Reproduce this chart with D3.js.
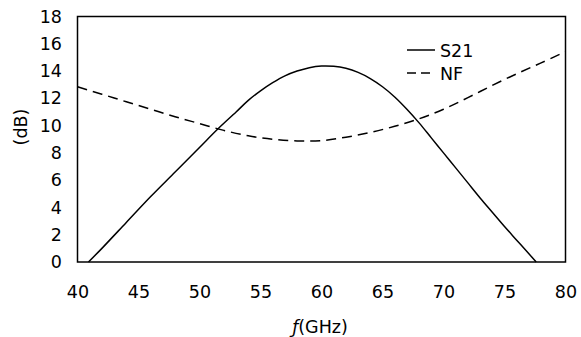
<!DOCTYPE html>
<html>
<head>
<meta charset="utf-8">
<script src="https://cdn.jsdelivr.net/npm/d3@7"></script>
<style>
  body { margin: 0; background: #fff; }
  text { font-family: "DejaVu Sans", Verdana, sans-serif; fill: #000; }
</style>
</head>
<body>
<div id="chart"></div>
<script>
// S21 gain (dB) vs frequency (GHz)
var s21Freq = [40.9, 42, 44, 46, 48, 50, 51.5, 53, 54, 55, 56, 57, 58, 59, 60, 61, 62, 63, 64, 65, 66, 67, 68, 69, 70, 71, 72, 73, 74, 75, 76, 77, 77.6];
var s21Gain = [0, 1.0, 2.9, 4.8, 6.6, 8.4, 9.75, 11.0, 11.85, 12.55, 13.15, 13.65, 14.0, 14.25, 14.37, 14.35, 14.2, 13.9, 13.45, 12.85, 12.1, 11.2, 10.2, 9.1, 8.0, 6.9, 5.8, 4.7, 3.65, 2.6, 1.6, 0.6, 0];
// noise figure (dB)
var nfFreq = [40, 42, 44, 46, 48, 50, 52, 54, 56, 58, 60, 62, 64, 66, 68, 70, 72, 74, 76, 78, 80];
var nfVal = [12.85, 12.3, 11.75, 11.2, 10.65, 10.15, 9.65, 9.25, 9.0, 8.88, 8.9, 9.15, 9.5, 9.95, 10.5, 11.2, 12.05, 12.95, 13.8, 14.6, 15.42];

var xTicks = [40, 45, 50, 55, 60, 65, 70, 75, 80];
var yTicks = [0, 2, 4, 6, 8, 10, 12, 14, 16, 18];
var seriesNames = ["S21", "NF"];

var W = 581, H = 337,
    margin = { top: 16.5, right: 15.5, bottom: 75, left: 77.5 },
    width = W - margin.left - margin.right,
    height = H - margin.top - margin.bottom,
    fs = "17.5px";

var svg = d3.select("#chart").append("svg").attr("width", W).attr("height", H),
    g = svg.append("g").attr("transform", "translate(" + margin.left + "," + margin.top + ")");

var x = d3.scaleLinear().domain([40, 80]).range([0, width]);
var y = d3.scaleLinear().domain([0, 18]).range([height, 0]);

// axes: labels only, no tick marks
g.append("g")
    .attr("transform", "translate(0," + height + ")")
    .call(d3.axisBottom(x).tickValues(xTicks).tickSize(0).tickPadding(23.5))
    .call(function (a) { a.select(".domain").remove(); })
    .selectAll("text").attr("font-size", fs).style("font-family", "DejaVu Sans");

g.append("g")
    .call(d3.axisLeft(y).tickValues(yTicks).tickSize(0).tickPadding(15.5))
    .call(function (a) { a.select(".domain").remove(); })
    .selectAll("text").attr("font-size", fs).style("font-family", "DejaVu Sans");

// plot frame
g.append("rect")
    .attr("width", width).attr("height", height)
    .attr("fill", "none").attr("stroke", "#000").attr("stroke-width", 1.5);

var line = d3.line()
    .x(function (d) { return x(d[0]); })
    .y(function (d) { return y(d[1]); })
    .curve(d3.curveCatmullRom.alpha(0.5));

g.append("path")
    .datum(d3.zip(s21Freq, s21Gain))
    .attr("d", line)
    .attr("fill", "none").attr("stroke", "#000").attr("stroke-width", 1.5);

g.append("path")
    .datum(d3.zip(nfFreq, nfVal))
    .attr("d", line)
    .attr("fill", "none").attr("stroke", "#000").attr("stroke-width", 1.5)
    .attr("stroke-dasharray", "10,6");

// legend
var leg = svg.append("g").attr("transform", "translate(407,50)");
seriesNames.forEach(function (name, i) {
    leg.append("line")
        .attr("x1", 0).attr("x2", 28).attr("y1", i * 23).attr("y2", i * 23)
        .attr("stroke", "#000").attr("stroke-width", 1.5)
        .attr("stroke-dasharray", i == 1 ? "9,5" : null);
    leg.append("text")
        .attr("x", 33).attr("y", i * 23 + 7)
        .attr("font-size", fs)
        .text(name);
});

// axis titles
svg.append("text")
    .attr("transform", "translate(27,127) rotate(-90)")
    .attr("text-anchor", "middle")
    .attr("font-size", fs)
    .text("(dB)");

svg.append("text")
    .attr("x", 320).attr("y", 333)
    .attr("text-anchor", "middle")
    .attr("font-size", fs)
    .html('<tspan font-style="italic">ƒ</tspan>(GHz)');
</script>
</body>
</html>
